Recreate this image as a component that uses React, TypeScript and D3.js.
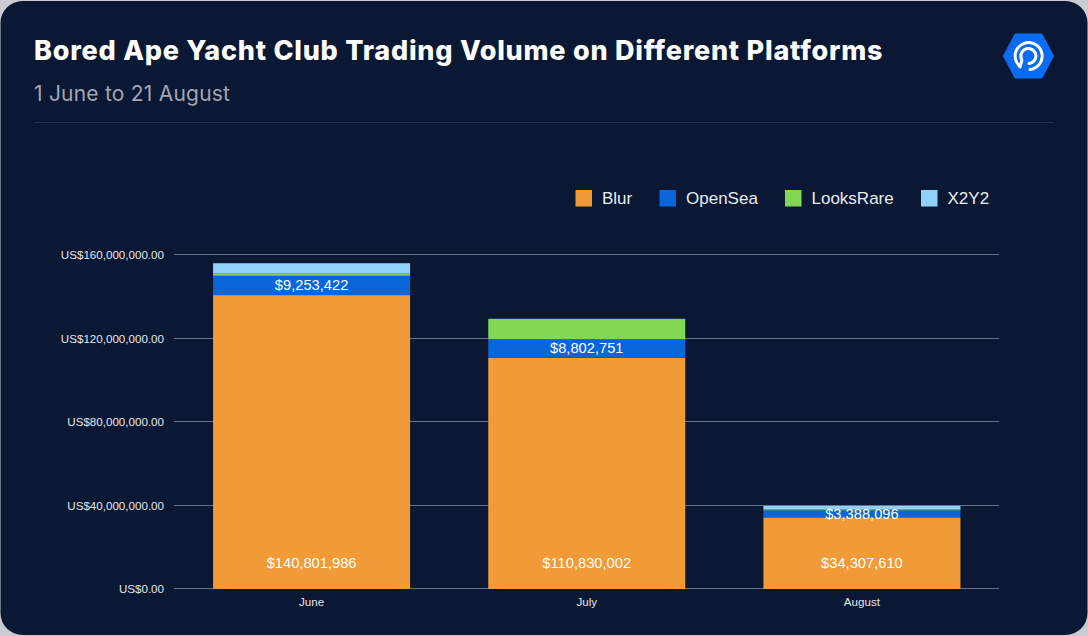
import React from "react";
import * as d3 from "d3";

const months = ["June", "July", "August"];
const blur = [140801986, 110830002, 34307610];
const openSea = [9253422, 8802751, 3388096];
const looksRare = [1200000, 9700000, 400000];
const x2y2 = [4800000, 100000, 1700000];
const seriesNames = ["Blur", "OpenSea", "LooksRare", "X2Y2"];
const seriesColors = ["#f09a38", "#0966da", "#83d755", "#91d2fd"];
const yTicks = [0, 40000000, 80000000, 120000000, 160000000];
const legendX = [575.5, 659.5, 785, 921];

const sans = "'Liberation Sans', Arial, sans-serif";
const title = "Inter, 'Open Sans', sans-serif";

export default function App() {
  const x = d3.scaleBand<string>().domain(months).range([174, 999.5]).paddingInner(0.284).paddingOuter(0.142);
  const y = d3.scaleLinear().domain([0, 160000000]).range([589, 255]);
  const rows = months.map((m, i) => ({ m, Blur: blur[i], OpenSea: openSea[i], LooksRare: looksRare[i], X2Y2: x2y2[i] }));
  const stacked = d3.stack<any>().keys(seriesNames)(rows);
  const fmt = d3.format(",");
  const hex = d3.line();
  const cx = 1028.5, cy = 56;
  const hexPts: [number, number][] = [[cx - 24.5, cy], [cx - 13, cy - 21.5], [cx + 13, cy - 21.5], [cx + 24.5, cy], [cx + 13, cy + 21.5], [cx - 13, cy + 21.5]];
  return (
    <svg width={1088} height={636} style={{ position: "fixed", left: 0, top: 0, display: "block" }}>
      <rect width={1088} height={636} fill="#c9ccd3" />
      <rect x={0.5} y={1} width={1087} height={634} rx={22} fill="#0a1833" />
      <text x={34} y={60} fill="#fff" fontFamily={title} fontWeight={800} fontSize={27} letterSpacing={0.76}>Bored Ape Yacht Club Trading Volume on Different Platforms</text>
      <text x={34} y={101} fill="#a1a6b2" fontFamily={title} fontSize={21} letterSpacing={0.22}>1 June to 21 August</text>
      <line x1={34} x2={1054} y1={122.5} y2={122.5} stroke="#1d3155" />
      <path d={hex(hexPts) + "Z"} fill="#0a6cf5" stroke="#0a6cf5" strokeWidth={2} strokeLinejoin="round" />
      <path
        d="M1030 69.5 A13.5 13.5 0 1 0 1016.5 62 L1020 67 L1022 60 A7.5 7.5 0 1 1 1029 63.5"
        fill="none" stroke="#fff" strokeWidth={3} strokeLinecap="round" strokeLinejoin="round"
      />
      {seriesNames.map((s, i) => (
        <g key={s}>
          <rect x={legendX[i]} y={190} width={16.5} height={16.5} fill={seriesColors[i]} />
          <text x={legendX[i] + 26.5} y={204} fill="#e9ebef" fontFamily={sans} fontSize={17}>{s}</text>
        </g>
      ))}
      {yTicks.map((t) => (
        <g key={t}>
          <line x1={174} x2={999} y1={Math.round(y(t)) - 0.5} y2={Math.round(y(t)) - 0.5} stroke="#67718a" />
          <text x={164} y={y(t) + 4} textAnchor="end" fill="#e4e6ea" fontFamily={sans} fontSize={11.6}>
            {"US$" + d3.format(",.2f")(t)}
          </text>
        </g>
      ))}
      {stacked.map((layer, k) =>
        layer.map((d, i) => (
          <rect key={k + "-" + i} x={x(months[i])} width={x.bandwidth()} y={y(d[1])} height={y(d[0]) - y(d[1])} fill={seriesColors[k]} />
        ))
      )}
      {months.map((m, i) => (
        <g key={m} fill="#fff" fontFamily={sans} fontSize={14.7} textAnchor="middle">
          <text x={x(m)! + x.bandwidth() / 2} y={568}>{"$" + fmt(blur[i])}</text>
          <text x={x(m)! + x.bandwidth() / 2} y={y(blur[i] + openSea[i] / 2) + 5}>{"$" + fmt(openSea[i])}</text>
          <text x={x(m)! + x.bandwidth() / 2} y={606} fill="#e4e6ea" fontSize={11.6}>{m}</text>
        </g>
      ))}
    </svg>
  );
}
